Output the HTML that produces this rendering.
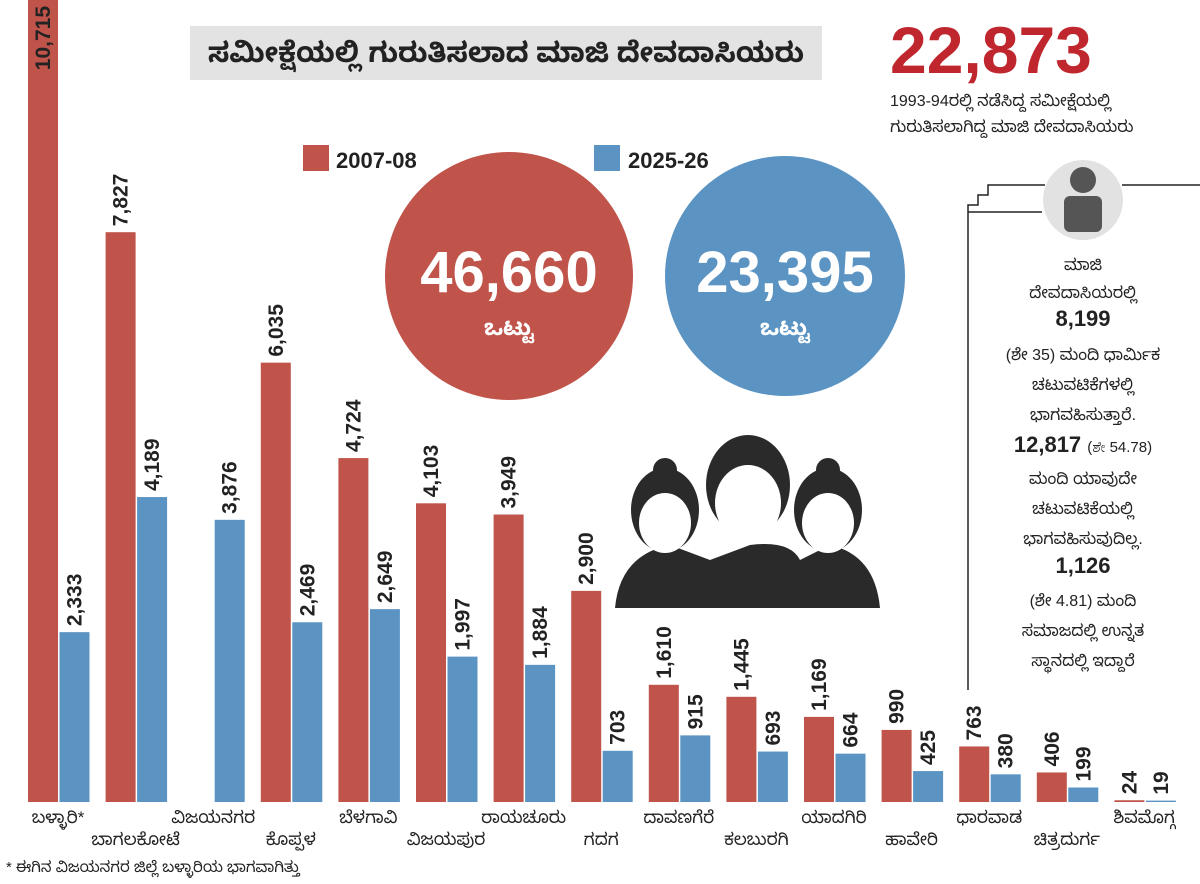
<!DOCTYPE html>
<html><head><meta charset="utf-8">
<style>
body{margin:0;background:#fff;}
svg{display:block;font-family:"Liberation Sans","Noto Sans Kannada",sans-serif;}
.val{font-family:"Liberation Sans Narrow","Liberation Sans",sans-serif;font-weight:bold;font-size:21px;fill:#222;}
.cat{font-size:17px;fill:#222;}
.side{font-size:16px;fill:#222;text-anchor:middle;}
.sideb{font-size:22px;font-weight:bold;fill:#222;text-anchor:middle;font-family:"Liberation Sans Narrow","Liberation Sans",sans-serif;}
</style></head><body>
<svg id="chart" width="1200" height="884" viewBox="0 0 1200 884">
<rect x="190" y="26" width="632" height="54" fill="#e3e3e3"/>
<text x="506" y="62" text-anchor="middle" font-size="28" font-weight="bold" fill="#222">ಸಮೀಕ್ಷೆಯಲ್ಲಿ ಗುರುತಿಸಲಾದ ಮಾಜಿ ದೇವದಾಸಿಯರು</text>
<text x="890" y="73" font-size="66" font-weight="bold" fill="#c0262e" font-family="Liberation Sans Narrow, Liberation Sans, sans-serif">22,873</text>
<text x="890" y="106" font-size="16" fill="#222">1993-94ರಲ್ಲಿ ನಡೆಸಿದ್ದ ಸಮೀಕ್ಷೆಯಲ್ಲಿ</text>
<text x="890" y="132" font-size="16" fill="#222">ಗುರುತಿಸಲಾಗಿದ್ದ ಮಾಜಿ ದೇವದಾಸಿಯರು</text>
<rect x="303" y="145" width="26" height="26" fill="#c0544a"/>
<text x="336" y="168" font-size="22" font-weight="bold" fill="#222">2007-08</text>
<rect x="594" y="145" width="26" height="26" fill="#5b94c3"/>
<text x="628" y="168" font-size="22" font-weight="bold" fill="#222">2025-26</text>
<circle cx="509" cy="276" r="124" fill="#c0544a"/>
<text x="509" y="292" text-anchor="middle" font-size="58" font-weight="bold" fill="#fff">46,660</text>
<text x="509" y="335" text-anchor="middle" font-size="22" font-weight="bold" fill="#fff">ಒಟ್ಟು</text>
<circle cx="785" cy="276" r="120" fill="#5b94c3"/>
<text x="785" y="292" text-anchor="middle" font-size="58" font-weight="bold" fill="#fff">23,395</text>
<text x="785" y="335" text-anchor="middle" font-size="22" font-weight="bold" fill="#fff">ಒಟ್ಟು</text>
<g fill="#2a2a2a">
<path d="M615 608 Q620 555 670 545 L710 560 L750 545 Q790 540 800 560 L830 545 Q875 555 880 608 Z"/>
<ellipse cx="665" cy="510" rx="34" ry="42"/><ellipse cx="828" cy="510" rx="34" ry="42"/>
<ellipse cx="748" cy="485" rx="42" ry="50"/><circle cx="748" cy="452" r="16"/>
<circle cx="665" cy="470" r="12"/><circle cx="828" cy="470" r="12"/>
</g>
<g fill="#fff"><ellipse cx="665" cy="523" rx="26" ry="30"/><ellipse cx="828" cy="523" rx="26" ry="30"/><ellipse cx="748" cy="503" rx="33" ry="38"/></g>
<path d="M968 690 V212 H1042 M1122 185 H1200 M968 212 V205 H978 V195 H988 V185 H1045" fill="none" stroke="#222" stroke-width="1.5"/>
<circle cx="1083" cy="200" r="40" fill="#e2e2e2"/>
<circle cx="1083" cy="180" r="13" fill="#555"/>
<rect x="1064" y="196" width="38" height="36" rx="6" fill="#555"/>
<g>
<text class="side" x="1083" y="270">ಮಾಜಿ</text>
<text class="side" x="1083" y="298">ದೇವದಾಸಿಯರಲ್ಲಿ</text>
<text class="sideb" x="1083" y="326">8,199</text>
<text class="side" x="1083" y="360">(ಶೇ 35) ಮಂದಿ ಧಾರ್ಮಿಕ</text>
<text class="side" x="1083" y="390">ಚಟುವಟಿಕೆಗಳಲ್ಲಿ</text>
<text class="side" x="1083" y="420">ಭಾಗವಹಿಸುತ್ತಾರೆ.</text>
<text class="sideb" x="1083" y="452">12,817 <tspan font-size="15" font-weight="normal">(ಶೇ 54.78)</tspan></text>
<text class="side" x="1083" y="484">ಮಂದಿ ಯಾವುದೇ</text>
<text class="side" x="1083" y="514">ಚಟುವಟಿಕೆಯಲ್ಲಿ</text>
<text class="side" x="1083" y="544">ಭಾಗವಹಿಸುವುದಿಲ್ಲ.</text>
<text class="sideb" x="1083" y="573">1,126</text>
<text class="side" x="1083" y="606">(ಶೇ 4.81) ಮಂದಿ</text>
<text class="side" x="1083" y="636">ಸಮಾಜದಲ್ಲಿ ಉನ್ನತ</text>
<text class="side" x="1083" y="666">ಸ್ಥಾನದಲ್ಲಿ ಇದ್ದಾರೆ</text>
</g>
<text x="6" y="872" font-size="15" fill="#222">* ಈಗಿನ ವಿಜಯನಗರ ಜಿಲ್ಲೆ ಬಳ್ಳಾರಿಯ ಭಾಗವಾಗಿತ್ತು</text>
<g id="bars"></g>
</svg>
<script>
const districts=["ಬಳ್ಳಾರಿ*","ಬಾಗಲಕೋಟೆ","ವಿಜಯನಗರ","ಕೊಪ್ಪಳ","ಬೆಳಗಾವಿ","ವಿಜಯಪುರ","ರಾಯಚೂರು","ಗದಗ","ದಾವಣಗೆರೆ","ಕಲಬುರಗಿ","ಯಾದಗಿರಿ","ಹಾವೇರಿ","ಧಾರವಾಡ","ಚಿತ್ರದುರ್ಗ","ಶಿವಮೊಗ್ಗ"];
const values2007=[10715,7827,null,6035,4724,4103,3949,2900,1610,1445,1169,990,763,406,24];
const values2025=[2333,4189,3876,2469,2649,1997,1884,703,915,693,664,425,380,199,19];
const NS="http://www.w3.org/2000/svg";
const g=document.getElementById('bars');
const base=802, k=0.0728, x0=28, step=77.6, bw=30;
const yScale=v=>base-v*k;
const xPos=(i,s)=>x0+i*step+s*31.5;
function fmt(v){return v.toLocaleString('en-US');}
function mk(tag,at){const e=document.createElementNS(NS,tag);for(const a in at)e.setAttribute(a,at[a]);g.appendChild(e);return e;}
function bar(i,s,v){
  if(v==null)return;
  const x=xPos(i,s);let y=yScale(v);
  if(i===0&&s===0)y=0;
  const r=mk('rect',{x:x,y:y,width:bw,height:base-y,fill:s?'#5b94c3':'#c0544a'});
  
  
  const inside=(i===0&&s===0);
  const tx=x+bw/2+7, ty=inside?y+6:y-6;
  const t=mk('text',{class:'val',x:tx,y:ty,transform:`rotate(-90 ${tx} ${ty})`,'text-anchor':inside?'end':'start'});
  if(inside)t.setAttribute('fill','#fff');
  t.textContent=fmt(v);
  
  
}
districts.forEach((d,i)=>{
  bar(i,0,values2007[i]);bar(i,1,values2025[i]);
  const t=mk('text',{class:'cat',x:x0+i*step+30,y:i%2?845:823,'text-anchor':'middle'});
  t.textContent=d;
  
  
});
</script>
</body></html>
